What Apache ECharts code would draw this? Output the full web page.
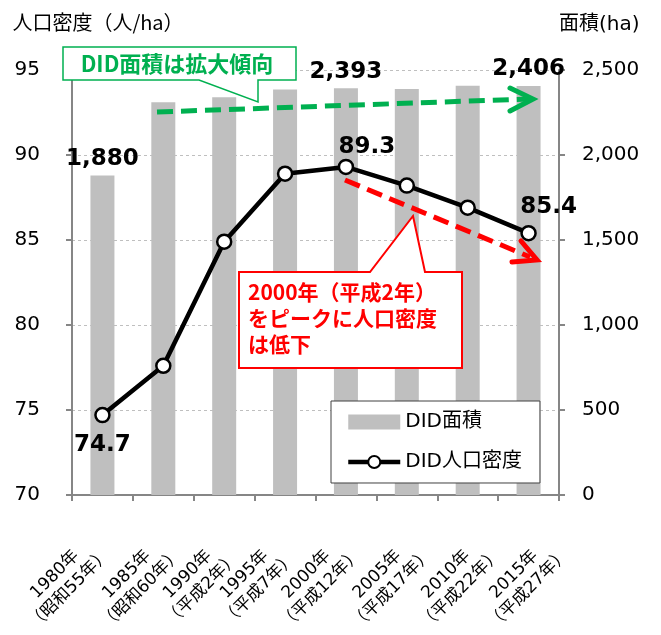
<!DOCTYPE html>
<html>
<head>
<meta charset="utf-8">
<script src="https://cdn.jsdelivr.net/npm/echarts@6/dist/echarts.min.js"></script>
<style>
  html, body { margin: 0; padding: 0; background: #fff; }
  #chart { width: 661px; height: 635px; }
</style>
</head>
<body>
<div id="chart"></div>
<script>
// data
const years = ["1980年", "1985年", "1990年", "1995年", "2000年", "2005年", "2010年", "2015年"];
const eraNames = ["（昭和55年）", "（昭和60年）", "（平成2年）", "（平成7年）", "（平成12年）", "（平成17年）", "（平成22年）", "（平成27年）"];
const areaValues = [1880, 2310, 2340, 2385, 2393, 2388, 2408, 2406];      // DID面積 (ha)
const densityValues = [74.7, 77.6, 84.9, 88.9, 89.3, 88.2, 86.9, 85.4];  // DID人口密度 (人/ha)
const densityTicks = [70, 75, 80, 85, 90, 95];
const areaTicks = [0, 500, 1000, 1500, 2000, 2500];

const FONT = "'DejaVu Sans', 'Noto Sans CJK JP', sans-serif";
const CJK = "'Noto Sans CJK JP', sans-serif";
const AXIS_GRAY = "#868686";

// which points carry a value label, and where it sits
const areaLabelIdx = [0, 4, 7];
const densityLabelOffset = { 0: [0, 30], 4: [21, -20], 7: [20, -26] };

// rotated category labels (Excel style, lines centred): block centre is
// shifted from the category centre by these amounts
const xLabelShift = [-40, -29, -29, -33, -32, -22, -14, -7];
const X_LABEL_DROP = 87;

const fmt = (v) => Number(v).toLocaleString("en-US");

const chart = echarts.init(document.getElementById("chart"), null, { renderer: "canvas" });

const areaData = areaValues.map((v, i) => ({
  value: v,
  label: { show: areaLabelIdx.includes(i) },
}));

const densityData = densityValues.map((v, i) =>
  densityLabelOffset[i]
    ? { value: v, label: { show: true, position: "inside", offset: densityLabelOffset[i] } }
    : v
);

chart.setOption({
  animation: false,
  backgroundColor: "#fff",
  textStyle: { fontFamily: FONT },
  grid: { left: 72, right: 102, top: 70, bottom: 140, outerBoundsMode: "none", containLabel: false },
  legend: {
    orient: "vertical",
    left: 331,
    top: 401,
    padding: [11, 18, 11, 15],
    itemGap: 20,
    itemWidth: 52,
    itemHeight: 15,
    backgroundColor: "#fff",
    borderColor: "#404040",
    borderWidth: 1,
    textStyle: { fontFamily: FONT, fontSize: 20, color: "#000" },
    data: [
      { name: "DID面積", icon: "rect" },
      { name: "DID人口密度", lineStyle: { width: 4.5, color: "#000" } },
    ],
    z: 50,
  },
  xAxis: {
    type: "category",
    data: years,
    axisLine: { lineStyle: { color: AXIS_GRAY, width: 2 } },
    axisTick: { show: true, length: 6, lineStyle: { color: AXIS_GRAY, width: 2 } },
    axisLabel: { show: false },
  },
  yAxis: [
    {
      type: "value",
      min: densityTicks[0],
      max: densityTicks[densityTicks.length - 1],
      interval: densityTicks[1] - densityTicks[0],
      name: "人口密度（人/ha）",
      nameLocation: "end",
      nameGap: 38,
      nameTextStyle: { fontFamily: CJK, fontSize: 20, color: "#000", align: "center", padding: [0, 0, 0, 52] },
      axisLine: { show: true, lineStyle: { color: AXIS_GRAY, width: 2 } },
      axisTick: { show: true, length: 6, lineStyle: { color: AXIS_GRAY, width: 2 } },
      axisLabel: { margin: 32, fontSize: 20, color: "#000", fontFamily: FONT, padding: [0, 0, 5, 0] },
      splitLine: { show: true, lineStyle: { color: "#bfbfbf", type: [3, 3], width: 1 } },
    },
    {
      type: "value",
      min: areaTicks[0],
      max: areaTicks[areaTicks.length - 1],
      interval: areaTicks[1] - areaTicks[0],
      name: "面積(ha)",
      nameLocation: "end",
      nameGap: 35,
      nameTextStyle: { fontFamily: FONT, fontSize: 20, color: "#000", align: "left" },
      axisLine: { show: true, lineStyle: { color: AXIS_GRAY, width: 2 } },
      axisTick: { show: true, length: 6, lineStyle: { color: AXIS_GRAY, width: 2 } },
      axisLabel: { margin: 23, fontSize: 20, color: "#000", fontFamily: FONT, formatter: fmt, padding: [0, 0, 5, 0] },
      splitLine: { show: false },
    },
  ],
  series: [
    {
      name: "DID面積",
      type: "bar",
      yAxisIndex: 1,
      barWidth: 24,
      data: areaData,
      itemStyle: { color: "#bfbfbf" },
      label: {
        position: "top",
        distance: 5,
        fontFamily: FONT,
        fontSize: 23,
        fontWeight: "bold",
        color: "#000",
        formatter: (p) => fmt(p.value),
      },
    },
    {
      name: "DID人口密度",
      type: "line",
      yAxisIndex: 0,
      data: densityData,
      symbol: "circle",
      symbolSize: 14,
      lineStyle: { color: "#000", width: 4.5 },
      itemStyle: { color: "#fff", borderColor: "#000", borderWidth: 2.5 },
      label: {
        show: false,
        fontFamily: FONT,
        fontSize: 23,
        fontWeight: "bold",
        color: "#000",
        formatter: (p) => p.value.toFixed(1),
      },
      z: 3,
    },
  ],
});

// category labels placed from the axis scale, rotated 45deg with centred lines
const axisBottom = chart.convertToPixel({ yAxisIndex: 0 }, densityTicks[0]);
const xLabels = years.map((y, i) => ({
  type: "text",
  z: 90,
  x: chart.convertToPixel({ xAxisIndex: 0 }, y) + xLabelShift[i],
  y: axisBottom + X_LABEL_DROP,
  rotation: Math.PI / 4,
  style: {
    text: y + "\n" + eraNames[i],
    fill: "#000",
    fontSize: 17,
    fontFamily: FONT,
    lineHeight: 21,
    textAlign: "center",
    textVerticalAlign: "middle",
  },
}));

chart.setOption({
  graphic: xLabels.concat([
    // green trend arrow
    {
      type: "polyline", z: 100,
      shape: { points: [[157, 112], [528, 99]] },
      style: { stroke: "#00b050", lineWidth: 5, lineDash: [16, 8], fill: null },
    },
    {
      type: "polyline", z: 100,
      shape: { points: [[510, 88], [533, 99], [510, 111]] },
      style: { stroke: "#00b050", lineWidth: 5, lineCap: "round", lineJoin: "miter", fill: null },
    },
    // red trend arrow
    {
      type: "polyline", z: 100,
      shape: { points: [[345, 180], [530, 257]] },
      style: { stroke: "#ff0000", lineWidth: 5, lineDash: [16, 8], fill: null },
    },
    {
      type: "polyline", z: 100,
      shape: { points: [[521, 241], [537, 260], [512, 262]] },
      style: { stroke: "#ff0000", lineWidth: 5, lineCap: "round", lineJoin: "miter", fill: null },
    },
    // green callout
    {
      type: "polygon", z: 101,
      shape: { points: [[63, 47], [296, 47], [296, 80], [258, 80], [258, 102], [199, 80], [63, 80]] },
      style: { fill: "#fff", stroke: "#00b050", lineWidth: 1.5 },
    },
    {
      type: "text", z: 102,
      x: 177, y: 64,
      style: {
        text: "DID面積は拡大傾向",
        fill: "#00b050",
        font: "bold 22px " + CJK,
        textAlign: "center",
        textVerticalAlign: "middle",
      },
    },
    // red callout
    {
      type: "polygon", z: 101,
      shape: { points: [[239, 272], [370, 272], [413, 216], [425, 272], [462, 272], [462, 368], [239, 368]] },
      style: { fill: "#fff", stroke: "#ff0000", lineWidth: 2 },
    },
    {
      type: "text", z: 102,
      x: 248, y: 279,
      style: {
        text: "2000年（平成2年）\nをピークに人口密度\nは低下",
        fill: "#ff0000",
        font: "bold 21px " + CJK,
        lineHeight: 26,
        textAlign: "left",
        textVerticalAlign: "top",
      },
    },
  ]),
});
</script>
</body>
</html>
